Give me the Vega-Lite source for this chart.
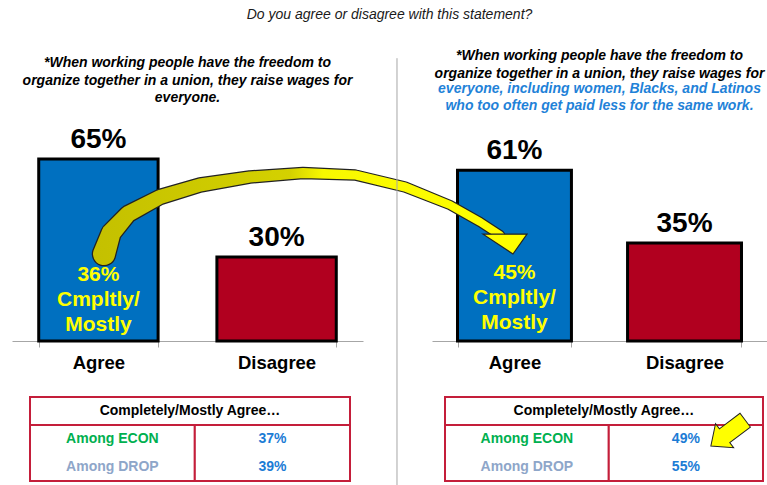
{
  "$schema": "https://vega.github.io/schema/vega-lite/v6.json",
  "padding": {"left": 12, "top": 8, "right": 0, "bottom": 0},
  "title": {"text": "Do you agree or disagree with this statement?", "fontSize": 14, "fontStyle": "italic", "fontWeight": "normal", "color": "#1a1a1a", "anchor": "middle", "offset": 27},
  "datasets": {
    "leftBars": [
      {"cat": "Agree", "pct": 65, "label": "65%", "inner": "36%\nCmpltly/\nMostly"},
      {"cat": "Disagree", "pct": 30, "label": "30%", "inner": ""}
    ],
    "rightBars": [
      {"cat": "Agree", "pct": 61, "label": "61%", "inner": "45%\nCmpltly/\nMostly"},
      {"cat": "Disagree", "pct": 35, "label": "35%", "inner": ""}
    ],
    "arrow": [
      {"i": 1, "x": -1.958, "pct": 31.07, "w": 1.0},
      {"i": 2, "x": -1.916, "pct": 38.57, "w": 0.86},
      {"i": 3, "x": -1.815, "pct": 45.36, "w": 0.73},
      {"i": 4, "x": -1.624, "pct": 51.43, "w": 0.64},
      {"i": 5, "x": -1.385, "pct": 55.71, "w": 0.59},
      {"i": 6, "x": -1.087, "pct": 58.57, "w": 0.5},
      {"i": 7, "x": -0.77, "pct": 60.0, "w": 0.45},
      {"i": 8, "x": -0.46, "pct": 59.29, "w": 0.41},
      {"i": 9, "x": -0.161, "pct": 55.0, "w": 0.41},
      {"i": 10, "x": 0.107, "pct": 48.57, "w": 0.36},
      {"i": 11, "x": 0.287, "pct": 42.5, "w": 0.36},
      {"i": 12, "x": 0.406, "pct": 37.86, "w": 0.36}
    ],
    "arrowHead": [{"x": 0.436, "pct": 34.6}],
    "divider": [{"x": -0.302, "top": -12.1, "bottom": 3.2}],
    "cells": [
      {"x0": 0, "x1": 2, "y0": 0, "y1": 1},
      {"x0": 0, "x1": 1.03, "y0": 1, "y1": 3},
      {"x0": 1.03, "x1": 2, "y0": 1, "y1": 3}
    ],
    "tableL": [
      {"kind": "header", "text": "Completely/Mostly Agree…", "x": 1, "y": 0.5},
      {"kind": "econ", "text": "Among ECON", "x": 0.515, "y": 1.5},
      {"kind": "drop", "text": "Among DROP", "x": 0.515, "y": 2.5},
      {"kind": "value", "text": "37%", "x": 1.515, "y": 1.5},
      {"kind": "value", "text": "39%", "x": 1.515, "y": 2.5}
    ],
    "tableR": [
      {"kind": "header", "text": "Completely/Mostly Agree…", "x": 1, "y": 0.5},
      {"kind": "econ", "text": "Among ECON", "x": 0.515, "y": 1.5},
      {"kind": "drop", "text": "Among DROP", "x": 0.515, "y": 2.5},
      {"kind": "value", "text": "49%", "x": 1.515, "y": 1.5},
      {"kind": "value", "text": "55%", "x": 1.515, "y": 2.5}
    ],
    "tableArrow": [{"x": 1.78, "y": 1.29}]
  },
  "columns": 2,
  "spacing": {"row": 56, "column": 69},
  "bounds": "flush",
  "resolve": {"scale": {"color": "independent", "size": "independent"}},
  "concat": [
    {
      "width": 351,
      "height": 196,
      "data": {"name": "leftBars"},
      "title": {
        "text": ["*When working people have the freedom to", "organize together in a union, they raise wages for", "everyone."],
        "fontSize": 14, "fontStyle": "italic", "fontWeight": "bold", "color": "black",
        "lineHeight": 17.5, "anchor": "middle", "frame": "group", "baseline": "bottom", "offset": 7
      },
      "layer": [
        {
          "mark": {"type": "bar", "stroke": "black", "strokeWidth": 3},
          "encoding": {
            "x": {"field": "cat", "type": "nominal", "scale": {"paddingInner": 0.33, "paddingOuter": 0.15},
              "axis": {"title": null, "labelAngle": 0, "labelFontSize": 18.5, "labelFontWeight": "bold", "labelColor": "black", "domainColor": "#A6A6A6", "tickColor": "#A6A6A6", "tickSize": 6, "tickBand": "extent", "labelPadding": 6}},
            "y": {"field": "pct", "type": "quantitative", "scale": {"domain": [0, 70], "nice": false}, "axis": null},
            "color": {"field": "cat", "type": "nominal", "scale": {"domain": ["Agree", "Disagree"], "range": ["#0070C0", "#B1001F"]}, "legend": null}
          }
        },
        {
          "mark": {"type": "text", "fontSize": 28, "fontWeight": "bold", "baseline": "alphabetic", "dy": -11, "color": "black"},
          "encoding": {
            "x": {"field": "cat", "type": "nominal"},
            "y": {"field": "pct", "type": "quantitative"},
            "text": {"field": "label"}
          }
        },
        {
          "mark": {"type": "text", "fontSize": 21, "fontWeight": "bold", "color": "#FFFF00", "lineBreak": "\n", "lineHeight": 25, "baseline": "middle", "dy": -66},
          "encoding": {
            "x": {"field": "cat", "type": "nominal"},
            "y": {"datum": 0, "type": "quantitative"},
            "text": {"field": "inner"}
          }
        }
      ]
    },
    {
      "width": 335,
      "height": 196,
      "title": {
        "text": ["*When working people have the freedom to", "organize together in a union, they raise wages for"],
        "subtitle": ["everyone, including women, Blacks, and Latinos", "who too often get paid less for the same work."],
        "fontSize": 14, "fontStyle": "italic", "fontWeight": "bold", "color": "black", "lineHeight": 17.5,
        "subtitleFontSize": 14, "subtitleFontStyle": "italic", "subtitleFontWeight": "bold", "subtitleColor": "#1F82D8",
        "subtitleLineHeight": 17.5, "subtitlePadding": 1,
        "anchor": "middle", "frame": "group", "baseline": "bottom", "offset": 10
      },
      "layer": [
        {
          "data": {"name": "rightBars"},
          "layer": [
            {
              "mark": {"type": "bar", "stroke": "black", "strokeWidth": 3},
              "encoding": {
                "x": {"field": "cat", "type": "nominal", "scale": {"paddingInner": 0.33, "paddingOuter": 0.15},
                  "axis": {"title": null, "labelAngle": 0, "labelFontSize": 18.5, "labelFontWeight": "bold", "labelColor": "black", "domainColor": "#A6A6A6", "tickColor": "#A6A6A6", "tickSize": 6, "tickBand": "extent", "labelPadding": 6}},
                "y": {"field": "pct", "type": "quantitative", "scale": {"domain": [0, 70], "nice": false}, "axis": null},
                "color": {"field": "cat", "type": "nominal", "scale": {"domain": ["Agree", "Disagree"], "range": ["#0070C0", "#B1001F"]}, "legend": null}
              }
            },
            {
              "mark": {"type": "text", "fontSize": 28, "fontWeight": "bold", "baseline": "alphabetic", "dy": -11, "color": "black"},
              "encoding": {
                "x": {"field": "cat", "type": "nominal"},
                "y": {"field": "pct", "type": "quantitative"},
                "text": {"field": "label"}
              }
            },
            {
              "mark": {"type": "text", "fontSize": 21, "fontWeight": "bold", "color": "#FFFF00", "lineBreak": "\n", "lineHeight": 25, "baseline": "middle", "dy": -68},
              "encoding": {
                "x": {"field": "cat", "type": "nominal"},
                "y": {"datum": 0, "type": "quantitative"},
                "text": {"field": "inner"}
              }
            }
          ]
        },
        {
          "layer": [
            {
              "data": {"name": "arrow"},
              "mark": {"type": "trail", "color": "#222222"},
              "encoding": {
                "x": {"field": "x", "type": "quantitative", "scale": {"domain": [0, 2], "nice": false, "zero": false}, "axis": null},
                "y": {"field": "pct", "type": "quantitative", "scale": {"domain": [0, 70], "nice": false}, "axis": null},
                "order": {"field": "i"},
                "size": {"field": "w", "type": "quantitative", "scale": {"domain": [0, 1], "range": [2.5, 24.5]}, "legend": null}
              }
            },
            {
              "data": {"name": "arrow"},
              "mark": {"type": "trail", "color": {"gradient": "linear", "x1": 0, "y1": 0, "x2": 1, "y2": 0, "stops": [{"offset": 0, "color": "#C4C000"}, {"offset": 0.48, "color": "#D4D100"}, {"offset": 0.56, "color": "#F8F800"}, {"offset": 1, "color": "#FFFF00"}]}},
              "encoding": {
                "x": {"field": "x", "type": "quantitative"},
                "y": {"field": "pct", "type": "quantitative"},
                "order": {"field": "i"},
                "size": {"field": "w", "type": "quantitative", "scale": {"domain": [0, 1], "range": [0, 22]}, "legend": null}
              }
            },
            {
              "data": {"name": "arrowHead"},
              "mark": {"type": "point", "shape": "M -1 -0.45 L 1 -0.45 L 0.36 0.45 Z", "filled": true, "fill": "#FFFF00", "stroke": "#222222", "strokeWidth": 1.2, "size": 1936, "opacity": 1},
              "encoding": {
                "x": {"field": "x", "type": "quantitative"},
                "y": {"field": "pct", "type": "quantitative"}
              }
            }
          ],
          "resolve": {"scale": {"size": "independent"}}
        }
      ],
      "resolve": {"scale": {"x": "independent"}}
    },
    {
      "width": 351,
      "height": 84,
      "layer": [
        {
          "data": {"name": "cells"},
          "mark": {"type": "rect", "fill": "white", "stroke": "#C41E3A", "strokeWidth": 2},
          "encoding": {
            "x": {"field": "x0", "type": "quantitative", "scale": {"domain": [-0.1125, 2.08125], "nice": false, "zero": false}, "axis": null},
            "x2": {"field": "x1"},
            "y": {"field": "y0", "type": "quantitative", "scale": {"domain": [0, 3], "reverse": true, "nice": false}, "axis": null},
            "y2": {"field": "y1"}
          }
        },
        {
          "data": {"name": "tableL"},
          "mark": {"type": "text", "fontWeight": "bold", "baseline": "middle"},
          "encoding": {
            "x": {"field": "x", "type": "quantitative"},
            "y": {"field": "y", "type": "quantitative"},
            "text": {"field": "text"},
            "color": {"field": "kind", "type": "nominal", "scale": {"domain": ["header", "econ", "drop", "value"], "range": ["#000000", "#00B050", "#8EA6C9", "#1C7CD5"]}, "legend": null},
            "size": {"field": "kind", "type": "ordinal", "scale": {"domain": ["header", "econ", "drop", "value"], "range": [14, 14, 14, 16]}, "legend": null}
          }
        }
      ]
    },
    {
      "width": 335,
      "height": 84,
      "layer": [
        {
          "data": {"name": "divider"},
          "mark": {"type": "rule", "color": "#A6A6A6", "strokeWidth": 1},
          "encoding": {
            "x": {"field": "x", "type": "quantitative", "scale": {"domain": [-0.0818, 2.0252], "nice": false, "zero": false}, "axis": null},
            "y": {"field": "top", "type": "quantitative", "scale": {"domain": [0, 3], "reverse": true, "nice": false}, "axis": null},
            "y2": {"field": "bottom"}
          }
        },
        {
          "data": {"name": "cells"},
          "mark": {"type": "rect", "fill": "white", "stroke": "#C41E3A", "strokeWidth": 2},
          "encoding": {
            "x": {"field": "x0", "type": "quantitative"},
            "x2": {"field": "x1"},
            "y": {"field": "y0", "type": "quantitative"},
            "y2": {"field": "y1"}
          }
        },
        {
          "data": {"name": "tableR"},
          "mark": {"type": "text", "fontWeight": "bold", "baseline": "middle"},
          "encoding": {
            "x": {"field": "x", "type": "quantitative"},
            "y": {"field": "y", "type": "quantitative"},
            "text": {"field": "text"},
            "color": {"field": "kind", "type": "nominal", "scale": {"domain": ["header", "econ", "drop", "value"], "range": ["#000000", "#00B050", "#8EA6C9", "#1C7CD5"]}, "legend": null},
            "size": {"field": "kind", "type": "ordinal", "scale": {"domain": ["header", "econ", "drop", "value"], "range": [14, 14, 14, 16]}, "legend": null}
          }
        },
        {
          "data": {"name": "tableArrow"},
          "mark": {"type": "point", "shape": "M -1 0 L -0.2 -0.7 L -0.2 -0.4 L 1 -0.4 L 1 0.4 L -0.2 0.4 L -0.2 0.7 Z", "filled": true, "fill": "#FFFF00", "stroke": "#222222", "strokeWidth": 1, "size": 1850, "angle": 323, "opacity": 1},
          "encoding": {
            "x": {"field": "x", "type": "quantitative"},
            "y": {"field": "y", "type": "quantitative"}
          }
        }
      ]
    }
  ],
  "config": {
    "font": "Liberation Sans",
    "view": {"stroke": null}
  }
}
